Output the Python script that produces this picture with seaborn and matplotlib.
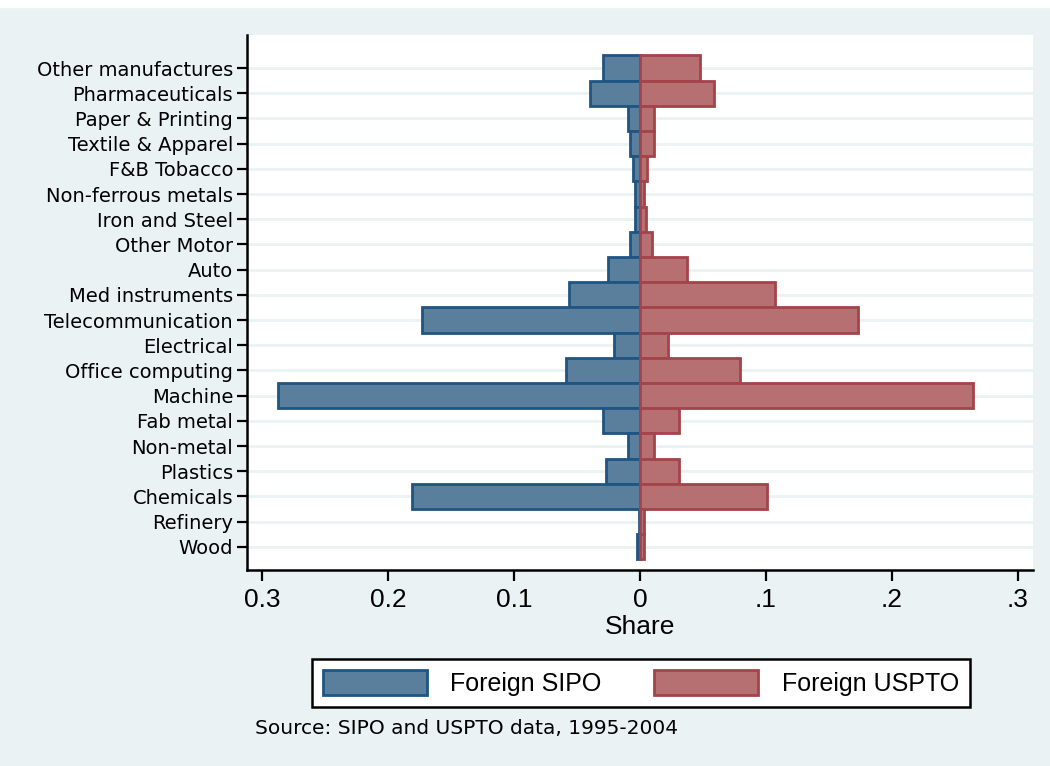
import numpy as np
import pandas as pd
import matplotlib
matplotlib.use('Agg')
import matplotlib.pyplot as plt
import matplotlib.patches as mpatches
import seaborn as sns

# Industry shares of foreign patents, top to bottom as in the chart
industries = ['Other manufactures', 'Pharmaceuticals', 'Paper & Printing',
              'Textile & Apparel', 'F&B Tobacco', 'Non-ferrous metals',
              'Iron and Steel', 'Other Motor', 'Auto', 'Med instruments',
              'Telecommunication', 'Electrical', 'Office computing', 'Machine',
              'Fab metal', 'Non-metal', 'Plastics', 'Chemicals', 'Refinery', 'Wood']
sipo_share = [0.029, 0.040, 0.0095, 0.008, 0.0055, 0.004, 0.004, 0.008, 0.025, 0.056,
              0.173, 0.021, 0.059, 0.287, 0.029, 0.0095, 0.027, 0.181, 0.001, 0.002]
uspto_share = [0.048, 0.059, 0.011, 0.011, 0.0053, 0.003, 0.005, 0.0095, 0.037, 0.107,
               0.173, 0.022, 0.079, 0.264, 0.031, 0.011, 0.031, 0.101, 0.003, 0.003]
xtick_vals = [-0.3, -0.2, -0.1, 0, 0.1, 0.2, 0.3]
xtick_labels = ['0.3', '0.2', '0.1', '0', '.1', '.2', '.3']

df = pd.DataFrame({'industry': industries,
                   'sipo': -np.array(sipo_share),
                   'uspto': uspto_share})

bg = '#EAF2F3'
blue_fill, blue_edge = '#5A7F9C', '#1F5582'
red_fill, red_edge = '#B77072', '#A3434A'
narrow = 'Liberation Sans'

sns.set_style('white')
plt.rcParams['font.family'] = ['DejaVu Sans']
for key in ['text.color', 'axes.labelcolor', 'xtick.color', 'ytick.color']:
    plt.rcParams[key] = 'black'

fig = plt.figure(figsize=(10.5, 7.66), dpi=100, facecolor=bg)
# white strip at the very top (page above the graph)
fig.patches.append(mpatches.Rectangle((0, 1 - 7 / 766), 1, 7 / 766,
                                      transform=fig.transFigure, color='white', zorder=0))
ax = fig.add_axes([247 / 1050, 1 - 570 / 766, (1033 - 247) / 1050, (570 - 35) / 766])
ax.set_facecolor('white')

# gridlines at each category
for i in range(len(industries)):
    ax.axhline(i, color=bg, lw=2, zorder=0)

sns.barplot(data=df, y='industry', x='sipo', orient='h', width=1.0,
            color=blue_fill, edgecolor=blue_edge, linewidth=2.0, saturation=1,
            ax=ax, zorder=2)
sns.barplot(data=df, y='industry', x='uspto', orient='h', width=1.0,
            color=red_fill, edgecolor=red_edge, linewidth=2.0, saturation=1,
            ax=ax, zorder=3)

ax.set_xlim(-0.3119, 0.3119)
ax.set_ylim(19.92, -1.31)

ax.set_xticks(xtick_vals)
ax.set_xticklabels(xtick_labels, fontsize=19, family=narrow)
ax.set_xlabel('Share', fontsize=19, family=narrow, labelpad=2)
ax.set_ylabel('')
ax.tick_params(axis='y', labelsize=14, length=7, width=1.6, direction='out',
               color='black', pad=3, left=True)
ax.tick_params(axis='x', length=8, width=1.6, direction='out', color='black',
               pad=5, bottom=True)

for side in ['top', 'right']:
    ax.spines[side].set_visible(False)
for side in ['left', 'bottom']:
    ax.spines[side].set_color('black')
    ax.spines[side].set_linewidth(1.8)

handles = [mpatches.Patch(facecolor=blue_fill, edgecolor=blue_edge, lw=2.0, label='Foreign SIPO'),
           mpatches.Patch(facecolor=red_fill, edgecolor=red_edge, lw=2.0, label='Foreign USPTO')]
leg = fig.legend(handles=handles, loc='center', ncol=2,
                 bbox_to_anchor=(641 / 1050, 1 - 683 / 766),
                 prop={'family': narrow, 'size': 18}, frameon=True, fancybox=False,
                 edgecolor='black', framealpha=1, handlelength=4.15, handleheight=1.15,
                 columnspacing=2.1, borderpad=0.45, handletextpad=0.95)
leg.get_frame().set_linewidth(1.8)

fig.text(255 / 1050, 1 - 729 / 766, 'Source: SIPO and USPTO data, 1995-2004',
         fontsize=14.5, va='center', ha='left')

fig.savefig('out.png', dpi=100, facecolor=bg)
